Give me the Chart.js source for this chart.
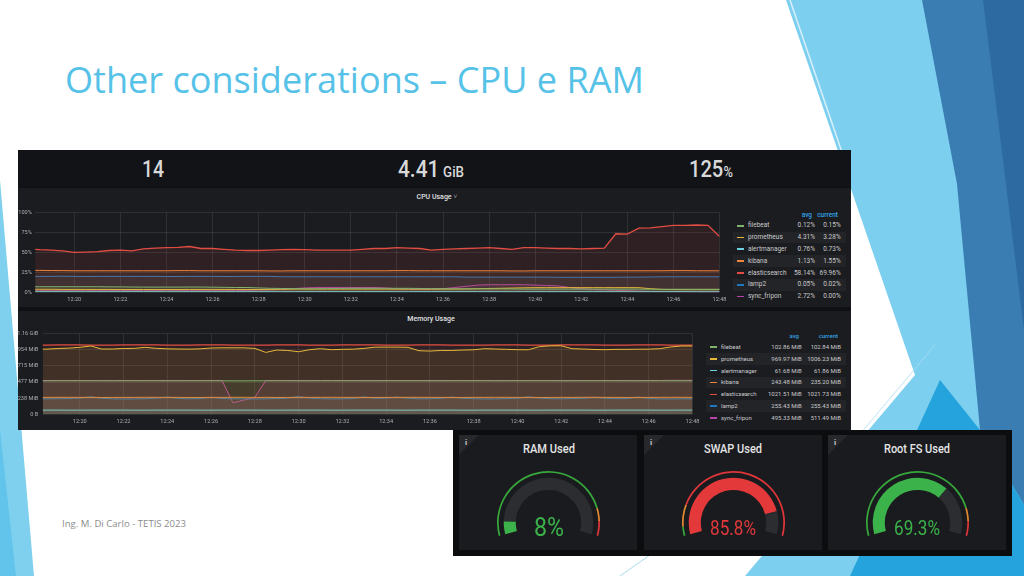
<!DOCTYPE html>
<html>
<head>
<meta charset="utf-8">
<script src="https://cdn.jsdelivr.net/npm/chart.js"></script>
<style>
  html, body { margin: 0; padding: 0; }
  body { width: 1024px; height: 576px; position: relative; overflow: hidden; background: #fff; font-family: Roboto, sans-serif; }
  .box { position: absolute; }
  .t { position: absolute; white-space: nowrap; line-height: 1; }
  canvas { position: absolute; }
</style>
</head>
<body>
<svg class="box" style="left:0;top:0" width="1024" height="576">
  <polygon points="0,180 0,576 34,576" fill="#7fd0ef"/>
  <polygon points="0,430 0,576 16,576" fill="#62c4ea"/>
  <polygon points="786,0 925,0 1024,440 1024,576 745,576 915,375" fill="#7dcff0"/>
  <polygon points="922,0 1024,0 1024,505 980,430 957,184" fill="#3a7db3"/>
  <polygon points="983,0 1024,0 1024,330 1003,160" fill="#2c6aa1"/>
  <polygon points="850,576 1024,576 1024,505 980,430 940,380" fill="#25a3dc"/>
  <line x1="790" y1="0" x2="848" y2="170" stroke="#ffffff" stroke-width="1.5" opacity="0.7"/>
  <line x1="620" y1="576" x2="700" y2="520" stroke="#8fd0ea" stroke-width="0.8"/>
  <line x1="855" y1="440" x2="935" y2="345" stroke="#a8dcef" stroke-width="0.8"/>
</svg>

<!-- dashboard -->
<div class="box" style="left:18px;top:150px;width:833px;height:280px;background:#0f1013"></div>
<div class="box" style="left:18px;top:150px;width:833px;height:37px;background:#121316"></div>
<div class="box" style="left:18px;top:188px;width:833px;height:119px;background:#1b1c20"></div>
<div class="box" style="left:18px;top:311px;width:833px;height:119px;background:#1b1c20"></div>

<!-- gauges -->
<div class="box" style="left:453px;top:430px;width:559px;height:126px;background:#0c0d0f"></div>
<div class="box" style="left:459px;top:435px;width:178px;height:115px;background:#1a1b1f"></div>
<div class="box" style="left:644px;top:435px;width:178px;height:115px;background:#1a1b1f"></div>
<div class="box" style="left:828px;top:435px;width:178px;height:115px;background:#1a1b1f"></div>

<canvas id="cpu"></canvas>
<canvas id="mem"></canvas>
<canvas id="g0" width="103" height="65"></canvas>
<canvas id="g1" width="103" height="65"></canvas>
<canvas id="g2" width="103" height="65"></canvas>

<script>
// ---- data ----
const times = [
  18.3, 18.5, 19, 19.5, 20, 20.5, 21, 21.5, 22, 22.5,
  23, 23.5, 24, 24.5, 25, 25.5, 26, 26.5, 27, 27.5,
  28, 28.5, 29, 29.5, 30, 30.5, 31, 31.5, 32, 32.5,
  33, 33.5, 34, 34.5, 35, 35.5, 36, 36.5, 37, 37.5,
  38, 38.5, 39, 39.5, 40, 40.5, 41, 41.5, 42, 42.5,
  43, 43.5, 44, 44.5, 45, 45.5, 46, 46.5, 47, 47.5,
  48
];
const tickMinutes = [20, 22, 24, 26, 28, 30, 32, 34, 36, 38, 40, 42, 44, 46, 48];
const tickLabels = ['12:20', '12:22', '12:24', '12:26', '12:28', '12:30', '12:32', '12:34', '12:36', '12:38', '12:40', '12:42', '12:44', '12:46', '12:48'];

const cpuTickValues = [0, 25, 50, 75, 100];
const cpuTickLabels = ['0%', '25%', '50%', '75%', '100%'];
const memTickValues = [0, 238.418, 476.837, 715.256, 953.674, 1192.093];
const memTickLabels = ['0 B', '238 MiB', '477 MiB', '715 MiB', '954 MiB', '1.16 GiB'];

const seriesNames = ['filebeat', 'prometheus', 'alertmanager', 'kibana', 'elasticsearch', 'lamp2', 'sync_fripon'];
const seriesColors = ['#7EB26D', '#EAB839', '#6ED0E0', '#EF843C', '#E24D42', '#1F78C1', '#BA43A9'];

const cpuAvg = ['0.12%', '4.31%', '0.76%', '1.13%', '58.14%', '0.05%', '2.72%'];
const cpuCurrent = ['0.15%', '3.28%', '0.73%', '1.55%', '69.96%', '0.02%', '0.00%'];
const memAvg = ['102.86 MiB', '969.97 MiB', '61.68 MiB', '243.48 MiB', '1021.51 MiB', '255.43 MiB', '495.33 MiB'];
const memCurrent = ['102.84 MiB', '1006.23 MiB', '61.86 MiB', '235.20 MiB', '1021.73 MiB', '255.43 MiB', '511.49 MiB'];

// CPU usage, percent
const cpuFilebeat = [
  7, 7, 7, 7, 7, 7, 7, 6.8, 6.8, 6.6,
  6.5, 6.5, 6.5, 6.5, 6.6, 6.6, 6.4, 6.2, 6, 6,
  5.5, 5, 4.8, 4.6, 4.5, 4.5, 4.6, 4.8, 5, 5,
  5, 5, 5, 5, 4.8, 4.5, 4.5, 4.4, 4.3, 4.3,
  4.2, 4.2, 4.2, 4, 4, 4, 4, 4, 4, 4,
  4, 4, 4, 4, 3.8, 3.8, 3.8, 3.8, 3.8, 3.8,
  3.8
];
const cpuPrometheus = [
  3.8, 3.8, 3.8, 3.6, 3.6, 3.6, 3.6, 3.6, 3.5, 3.5,
  3.5, 3.5, 3.5, 3.5, 3.6, 3.6, 3.6, 3.6, 3.5, 3.5,
  3.5, 3.6, 3.8, 4, 4, 4, 4, 4, 4, 4,
  4, 4, 4, 4, 4, 4, 4, 4, 4.2, 4.5,
  4.8, 5, 5.3, 5.6, 5.8, 5.8, 5.8, 5.8, 5.8, 5.8,
  5.8, 5.8, 5.8, 5.8, 4.5, 3.6, 3.4, 3.3, 3.3, 3.3,
  3.3
];
const cpuAlertmanager = [
  0.8, 0.8, 0.8, 0.8, 0.7, 0.7, 0.8, 0.8, 0.8, 0.8,
  0.8, 0.8, 0.7, 0.7, 0.8, 0.8, 0.8, 0.8, 0.8, 0.8,
  0.8, 0.8, 0.7, 0.7, 0.8, 0.8, 0.8, 0.8, 0.8, 0.8,
  0.8, 0.8, 0.7, 0.7, 0.8, 0.8, 0.8, 0.8, 0.8, 0.8,
  0.8, 0.8, 0.7, 0.7, 0.8, 0.8, 0.8, 0.8, 0.8, 0.8,
  0.8, 0.8, 0.7, 0.7, 0.8, 0.8, 0.8, 0.8, 0.7, 0.7,
  0.7
];
const cpuKibana = [
  27.5, 27.5, 27.3, 27.2, 27, 27, 27, 27, 27, 27,
  27, 27, 27, 27.2, 27.2, 27, 27, 27, 27, 27,
  27, 26.8, 26.8, 27, 27, 27, 27, 27, 27, 27,
  27, 27, 27.2, 27.2, 27, 27, 27, 27, 27, 27,
  27, 27, 26.8, 26.8, 27, 27, 27, 27, 27, 27,
  27, 27, 27, 27, 27, 27, 27.2, 27.2, 27, 27,
  27
];
const cpuElasticsearch = [
  54, 53.5, 53, 52, 50, 50.5, 51, 52.5, 53, 52,
  54.5, 55.5, 56, 56.5, 57.5, 55, 55, 54, 53, 52.5,
  52.5, 53, 53.5, 54, 53.5, 53, 53, 53, 53, 54,
  55, 55, 56, 55.5, 55, 53, 54, 54.5, 55, 55.5,
  56, 55, 54, 56, 56, 55.5, 55, 55, 54.5, 55,
  55.5, 73.5, 73, 80.5, 81, 82.5, 84, 84, 84.5, 84,
  70
];
const cpuLamp2 = [
  20, 20, 20, 20.2, 20, 19.8, 20, 20, 20, 20,
  20, 20, 19.8, 19.8, 20, 20, 20, 19.8, 19.8, 20,
  20, 20, 19.5, 19.5, 19.5, 19.5, 19.5, 19.5, 19.5, 19.5,
  19.5, 19.5, 19.5, 19.5, 19.5, 19.5, 19.5, 19.5, 19, 19,
  19, 19, 19, 19, 19, 19, 18.8, 18.8, 18.8, 18.8,
  18.8, 18.8, 19, 19, 19.2, 19.5, 19.5, 19.5, 19.5, 19.5,
  19.5
];
const cpuSyncFripon = [
  2.5, 2.5, 2.5, 2.5, 2.5, 2.5, 2.5, 2.5, 2.5, 2.5,
  2.5, 2.5, 2.5, 2.5, 2.5, 2.5, 2.5, 2.5, 2.5, 2.5,
  2.8, 3, 3.5, 4.5, 5.5, 6, 6, 6, 6, 6,
  6, 5.5, 4.5, 4, 3.8, 3.8, 4.5, 6, 7.5, 9,
  9.5, 9.5, 9.5, 9.5, 9, 8.5, 8, 6, 4.5, 3.5,
  3, 2.5, 2, 1.5, 1, 0.8, 0.5, 0.3, 0.2, 0.1,
  0
];

// Memory usage, MiB
const memFilebeat = [
  494, 494, 495, 495, 495, 495, 494, 494, 495, 495,
  495, 495, 494, 494, 495, 495, 495, 495, 494, 494,
  495, 495, 495, 495, 494, 494, 495, 495, 495, 495,
  494, 494, 495, 495, 495, 495, 494, 494, 495, 495,
  495, 495, 494, 494, 495, 495, 495, 495, 494, 494,
  495, 495, 495, 495, 494, 494, 495, 495, 495, 495,
  495
];
const memPrometheus = [
  963, 963, 973, 978, 990, 1010, 965, 965, 973, 975,
  990, 975, 968, 965, 963, 968, 980, 983, 983, 983,
  975, 915, 950, 944, 925, 955, 970, 955, 960, 963,
  975, 993, 993, 993, 990, 940, 935, 944, 944, 950,
  954, 970, 965, 960, 955, 954, 1000, 1013, 1013, 970,
  965, 958, 955, 960, 960, 962, 963, 970, 995, 1010,
  1010
];
const memAlertmanager = [
  62, 62, 62, 61, 61, 62, 62, 62, 62, 61,
  61, 62, 62, 62, 62, 61, 61, 62, 62, 62,
  62, 61, 61, 62, 62, 62, 62, 61, 61, 62,
  62, 62, 62, 61, 61, 62, 62, 62, 62, 61,
  61, 62, 62, 62, 62, 61, 61, 62, 62, 62,
  62, 61, 61, 62, 62, 62, 62, 61, 61, 62,
  62
];
const memKibana = [
  250, 250, 251, 251, 250, 250, 249, 249, 250, 250,
  251, 251, 250, 250, 249, 249, 250, 250, 251, 251,
  250, 250, 249, 249, 250, 250, 251, 251, 250, 250,
  249, 249, 250, 250, 251, 251, 250, 250, 249, 249,
  250, 250, 251, 251, 250, 250, 249, 249, 250, 250,
  251, 251, 250, 250, 249, 249, 250, 250, 251, 251,
  250
];
const memElasticsearch = [
  1024, 1024, 1025, 1025, 1025, 1024, 1024, 1024, 1025, 1025,
  1025, 1025, 1024, 1024, 1024, 1025, 1025, 1025, 1024, 1024,
  1024, 1024, 1025, 1025, 1025, 1024, 1024, 1024, 1025, 1025,
  1025, 1025, 1024, 1024, 1024, 1025, 1025, 1025, 1024, 1024,
  1024, 1024, 1025, 1025, 1025, 1024, 1024, 1024, 1025, 1025,
  1025, 1025, 1024, 1024, 1024, 1025, 1025, 1025, 1024, 1024,
  1024
];
const memLamp2 = [
  228, 228, 230, 232, 240, 258, 236, 228, 226, 226,
  230, 238, 255, 236, 228, 232, 252, 234, 228, 228,
  226, 228, 232, 240, 262, 240, 230, 226, 228, 232,
  258, 236, 240, 255, 238, 228, 230, 236, 255, 238,
  230, 226, 226, 232, 236, 258, 240, 230, 228, 232,
  236, 252, 238, 230, 232, 255, 236, 226, 226, 228,
  228
];
const memSyncFripon = [
  500, 500, 500, 500, 500, 500, 500, 500, 500, 500,
  500, 500, 500, 500, 500, 500, 500, 500, 170, 210,
  250, 500, 500, 500, 500, 500, 500, 500, 500, 500,
  500, 500, 500, 500, 500, 500, 500, 500, 500, 500,
  500, 500, 500, 500, 500, 500, 500, 500, 500, 500,
  500, 500, 500, 500, 500, 500, 500, 500, 502, 502,
  502
];

const statValues = ['14', '4.41', '125'];
const statUnits = ['', 'GiB', '%'];

const gaugeTitles = ['RAM Used', 'SWAP Used', 'Root FS Used'];
const gaugeValues = [8, 85.8, 69.3];
const gaugeThresholds = [[85, 7, 8], [5, 12, 83], [85, 7, 8]];

// ---- helpers ----
Chart.defaults.font.family = 'Roboto';

function rgba(hex, a) {
  const n = parseInt(hex.slice(1), 16);
  return `rgba(${n >> 16},${(n >> 8) & 255},${n & 255},${a})`;
}

// text placed by its vertical middle; optional target width squeezes it horizontally
function label(text, x, y, size, color, o) {
  o = o || {};
  const el = document.createElement('div');
  el.className = 't';
  if (o.html) el.innerHTML = text; else el.textContent = text;
  el.style.fontSize = size + 'px';
  el.style.color = color;
  if (o.font) el.style.fontFamily = o.font;
  if (o.weight) el.style.fontWeight = o.weight;
  document.body.appendChild(el);
  const r = el.getBoundingClientRect();
  const s = o.w ? o.w / r.width : 1;
  const vis = r.width * s;
  const left = o.align === 'center' ? x - vis / 2 : o.align === 'right' ? x - vis : x;
  el.style.left = left + 'px';
  el.style.top = (y - r.height / 2) + 'px';
  el.style.transformOrigin = '0 50%';
  el.style.transform = 'scaleX(' + s + ')';
  return el;
}

function rect(x, y, w, h, color) {
  const d = document.createElement('div');
  d.className = 'box';
  d.style.cssText += `left:${x}px;top:${y}px;width:${w}px;height:${h}px;background:${color}`;
  document.body.appendChild(d);
  return d;
}

// build the chart twice so that its plot area lands on the wanted rectangle
function placeChart(id, makeConfig, area) {
  const cv = document.getElementById(id);
  cv.width = Math.round(area.r - area.l + 40);
  cv.height = Math.round(area.b - area.t + 24);
  let ch = new Chart(cv, makeConfig());
  let ca = ch.chartArea;
  const w = cv.width + (area.r - area.l) - (ca.right - ca.left);
  const h = cv.height + (area.b - area.t) - (ca.bottom - ca.top);
  ch.destroy();
  cv.width = Math.round(w);
  cv.height = Math.round(h);
  cv.style.width = '';
  cv.style.height = '';
  ch = new Chart(cv, makeConfig());
  ca = ch.chartArea;
  cv.style.left = (area.l - ca.left) + 'px';
  cv.style.top = (area.t - ca.top) + 'px';
  return ch;
}

function timeSeriesConfig(series, yMax, yTicks, yLabels, yPad) {
  return () => ({
    type: 'line',
    data: {
      datasets: series.map((vals, i) => ({
        label: seriesNames[i],
        data: vals.map((v, k) => ({ x: times[k], y: v })),
        borderColor: seriesColors[i],
        backgroundColor: rgba(seriesColors[i], 0.1),
        borderWidth: i === 4 ? 1.3 : 1,
        fill: 'origin',
        pointRadius: 0,
        tension: 0
      }))
    },
    options: {
      responsive: false,
      maintainAspectRatio: false,
      animation: false,
      devicePixelRatio: 1,
      events: [],
      layout: { padding: 0 },
      plugins: { legend: { display: false }, tooltip: { enabled: false } },
      scales: {
        x: {
          type: 'linear', min: 18.3, max: 48,
          afterBuildTicks: s => { s.ticks = tickMinutes.map(v => ({ value: v })); },
          ticks: {
            callback: v => tickLabels[tickMinutes.indexOf(v)],
            color: '#a9adb3', font: { size: 5.6 }, padding: 3.5, maxRotation: 0, autoSkip: false
          },
          grid: { color: 'rgba(255,255,255,0.09)', drawTicks: false },
          border: { display: false }
        },
        y: {
          min: 0, max: yMax,
          afterBuildTicks: s => { s.ticks = yTicks.map(v => ({ value: v })); },
          ticks: {
            callback: v => yLabels[yTicks.indexOf(v)],
            color: '#a9adb3', font: { size: 5.6 }, padding: yPad
          },
          grid: { color: 'rgba(255,255,255,0.09)', drawTicks: false },
          border: { display: false }
        }
      }
    }
  });
}

// ---- slide text ----
label('Other considerations \u2013 CPU e RAM', 65, 78, 37, '#56c2e8', { font: '"Open Sans"', w: 579 });
label('Ing. M. Di Carlo - TETIS 2023', 62, 523, 9, '#8c8c8c', { font: '"Open Sans"', w: 124 });

// ---- stat row ----
const statX = [153, 431, 711];
const statW = [22, 66, 44];
statValues.forEach((v, i) => {
  const unit = statUnits[i] ? `<span style="font-size:0.64em;margin-left:${i === 1 ? 0.28 : 0.02}em">${statUnits[i]}</span>` : '';
  label(v + unit, statX[i], 169, 23, '#d8d9da', { html: true, align: 'center', w: statW[i], weight: 500 });
});

// ---- panel titles ----
label('CPU Usage <span style="color:#8e9095">\u02C5</span>', 437, 197, 7, '#e0e1e2', { html: true, align: 'center', weight: 500 });
label('Memory Usage', 431, 319, 7, '#e0e1e2', { align: 'center', weight: 500 });

// ---- charts ----
placeChart('cpu', timeSeriesConfig(
  [cpuFilebeat, cpuPrometheus, cpuAlertmanager, cpuKibana, cpuElasticsearch, cpuLamp2, cpuSyncFripon],
  100, cpuTickValues, cpuTickLabels, 3.3), { l: 35.3, t: 212.3, r: 720, b: 292.3 });

placeChart('mem', timeSeriesConfig(
  [memFilebeat, memPrometheus, memAlertmanager, memKibana, memElasticsearch, memLamp2, memSyncFripon],
  1192.093, memTickValues, memTickLabels, 4.3), { l: 43, t: 333.3, r: 693, b: 413.7 });

// ---- legend tables ----
function legendTable(avg, cur, o) {
  label('avg', o.avgHead, o.headY, o.size, '#33a2e5', { align: 'right', weight: 500 });
  label('current', o.curHead, o.headY, o.size, '#33a2e5', { align: 'right', weight: 500 });
  seriesNames.forEach((n, i) => {
    const y = o.y0 + i * o.dy;
    if (i % 2 === 1) rect(o.stripeL, y - o.dy / 2, o.stripeW, o.dy, 'rgba(255,255,255,0.035)');
    rect(o.dash, y - 0.9, 6.5, 1.8, seriesColors[i]);
    label(n, o.name, y, o.size, '#c9cacc');
    label(avg[i], o.avgR, y, o.size, '#c9cacc', { align: 'right' });
    label(cur[i], o.curR, y, o.size, '#c9cacc', { align: 'right' });
  });
}
legendTable(cpuAvg, cpuCurrent, { headY: 215, avgHead: 812, curHead: 838, y0: 225.7, dy: 11.8,
  stripeL: 733, stripeW: 113, dash: 737, name: 748, avgR: 815, curR: 840.7, size: 6.5 });
legendTable(memAvg, memCurrent, { headY: 336, avgHead: 799, curHead: 838, y0: 346.7, dy: 11.93,
  stripeL: 706, stripeW: 140, dash: 710, name: 721, avgR: 801.7, curR: 841, size: 6 });

// ---- gauges ----
const gaugeCenters = [548.5, 733, 917];
const gaugeTitleW = [52, 58, 66];
const gaugeValueSize = [25, 20, 20];
const gaugeValueW = [30, 46, 46];
const gaugeColor = ['#3cb34a', '#e3393b', '#3cb34a'];
const panelLeft = [459, 644, 828];

gaugeTitles.forEach((title, i) => {
  const tri = rect(panelLeft[i], 435, 20, 20, '#26282c');
  tri.style.clipPath = 'polygon(0 0, 100% 0, 0 100%)';
  label('i', panelLeft[i] + 6, 443, 8, '#c8c9cb', { weight: 700 });
  label(title, gaugeCenters[i], 448.5, 13, '#e4e5e6', { align: 'center', w: gaugeTitleW[i], weight: 500 });

  const cv = document.getElementById('g' + i);
  cv.style.left = (gaugeCenters[i] - 51.5) + 'px';
  cv.style.top = '471px';
  new Chart(cv, {
    type: 'doughnut',
    data: {
      datasets: [
        { data: gaugeThresholds[i], backgroundColor: ['#37a83b', '#e5892f', '#e0363a'], borderWidth: 0, weight: 1.7 },
        { data: [1], backgroundColor: 'rgba(0,0,0,0)', borderWidth: 0, weight: 5 },
        { data: [gaugeValues[i], 100 - gaugeValues[i]], backgroundColor: [gaugeColor[i], '#2b2d31'], borderWidth: 0, weight: 12 }
      ]
    },
    options: {
      responsive: false, maintainAspectRatio: false, animation: false, devicePixelRatio: 1, events: [],
      rotation: -105, circumference: 210, cutout: '63.5%',
      plugins: { legend: { display: false }, tooltip: { enabled: false } }
    }
  });

  label(gaugeValues[i] + '%', gaugeCenters[i], 527.5, gaugeValueSize[i], gaugeColor[i], { align: 'center', w: gaugeValueW[i] });
});
</script>
</body>
</html>
